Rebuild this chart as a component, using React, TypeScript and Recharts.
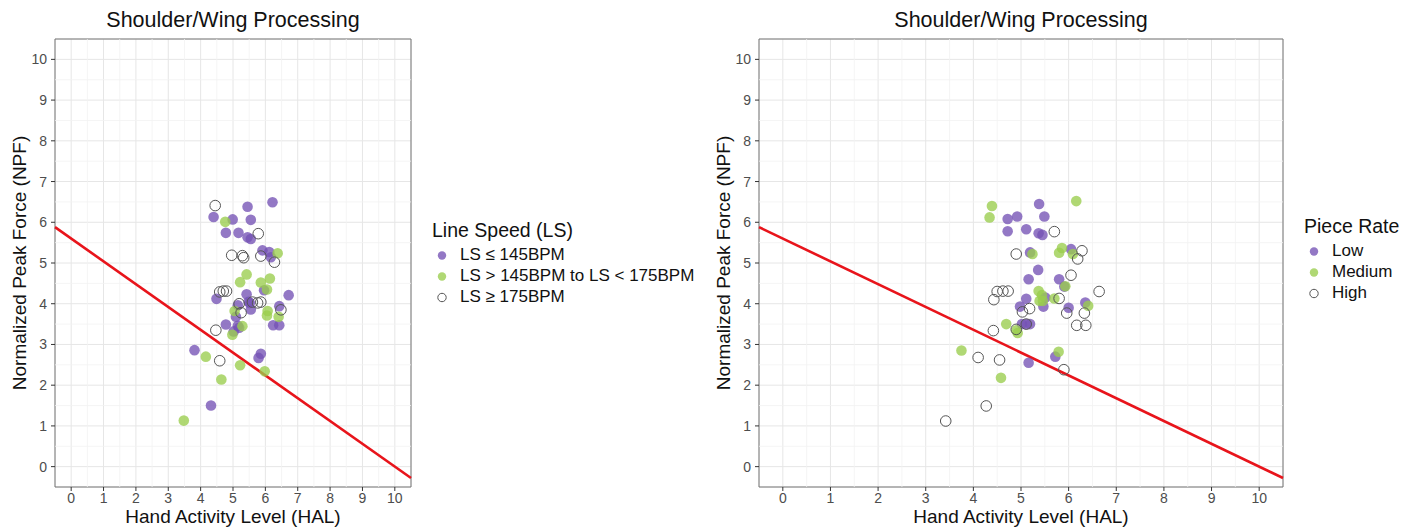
import React from 'react';
import { ScatterChart, Scatter, XAxis, YAxis, CartesianGrid, ReferenceLine, ReferenceArea } from 'recharts';

type Pt = { hal: number; npf: number };

const halTicks = [0, 1, 2, 3, 4, 5, 6, 7, 8, 9, 10];
const npfTicks = [0, 1, 2, 3, 4, 5, 6, 7, 8, 9, 10];

// left panel: grouped by line speed
const lsLow: Pt[] = [
  { hal: 5.45, npf: 6.38 }, { hal: 6.22, npf: 6.49 }, { hal: 4.4, npf: 6.13 }, { hal: 4.99, npf: 6.07 },
  { hal: 5.55, npf: 6.06 }, { hal: 4.78, npf: 5.74 }, { hal: 5.17, npf: 5.74 }, { hal: 5.45, npf: 5.63 },
  { hal: 5.55, npf: 5.59 }, { hal: 5.91, npf: 5.31 }, { hal: 6.12, npf: 5.27 }, { hal: 6.17, npf: 5.14 },
  { hal: 4.49, npf: 4.12 }, { hal: 5.42, npf: 4.23 }, { hal: 5.96, npf: 4.33 }, { hal: 6.72, npf: 4.21 },
  { hal: 5.15, npf: 3.96 }, { hal: 5.52, npf: 4.02 }, { hal: 5.48, npf: 4.05 }, { hal: 5.55, npf: 3.86 },
  { hal: 6.43, npf: 3.94 }, { hal: 5.09, npf: 3.68 }, { hal: 6.24, npf: 3.47 }, { hal: 6.43, npf: 3.47 },
  { hal: 4.78, npf: 3.49 }, { hal: 5.15, npf: 3.46 }, { hal: 5.19, npf: 3.41 }, { hal: 5.02, npf: 3.32 },
  { hal: 3.81, npf: 2.86 }, { hal: 5.86, npf: 2.77 }, { hal: 5.79, npf: 2.67 }, { hal: 4.32, npf: 1.5 },
];
const lsMid: Pt[] = [
  { hal: 4.76, npf: 6.01 }, { hal: 6.38, npf: 5.24 }, { hal: 5.42, npf: 4.72 }, { hal: 5.22, npf: 4.53 },
  { hal: 5.86, npf: 4.52 }, { hal: 6.14, npf: 4.62 }, { hal: 6.05, npf: 4.35 }, { hal: 5.05, npf: 3.82 },
  { hal: 6.07, npf: 3.82 }, { hal: 6.05, npf: 3.71 }, { hal: 6.41, npf: 3.68 }, { hal: 5.29, npf: 3.45 },
  { hal: 4.98, npf: 3.24 }, { hal: 4.16, npf: 2.7 }, { hal: 5.22, npf: 2.49 }, { hal: 5.98, npf: 2.34 },
  { hal: 4.64, npf: 2.14 }, { hal: 3.48, npf: 1.13 },
];
const lsHigh: Pt[] = [
  { hal: 4.45, npf: 6.41 }, { hal: 5.78, npf: 5.72 }, { hal: 4.96, npf: 5.19 }, { hal: 5.29, npf: 5.18 },
  { hal: 5.33, npf: 5.13 }, { hal: 5.86, npf: 5.17 }, { hal: 6.28, npf: 5.02 }, { hal: 4.59, npf: 4.29 },
  { hal: 4.7, npf: 4.31 }, { hal: 4.8, npf: 4.31 }, { hal: 5.19, npf: 4.0 }, { hal: 5.6, npf: 4.04 },
  { hal: 5.76, npf: 4.02 }, { hal: 5.86, npf: 4.04 }, { hal: 6.48, npf: 3.85 }, { hal: 5.25, npf: 3.78 },
  { hal: 4.47, npf: 3.35 }, { hal: 4.59, npf: 2.6 },
];

// right panel: grouped by piece rate
const prLow: Pt[] = [
  { hal: 5.38, npf: 6.45 }, { hal: 4.72, npf: 6.08 }, { hal: 4.92, npf: 6.14 }, { hal: 5.49, npf: 6.14 },
  { hal: 4.72, npf: 5.78 }, { hal: 5.11, npf: 5.83 }, { hal: 5.37, npf: 5.73 }, { hal: 5.45, npf: 5.69 },
  { hal: 5.19, npf: 5.26 }, { hal: 6.05, npf: 5.34 }, { hal: 5.36, npf: 4.83 }, { hal: 5.16, npf: 4.6 },
  { hal: 5.8, npf: 4.6 }, { hal: 5.91, npf: 4.42 }, { hal: 5.51, npf: 4.15 }, { hal: 5.11, npf: 4.12 },
  { hal: 4.98, npf: 3.93 }, { hal: 5.47, npf: 3.93 }, { hal: 6.0, npf: 3.9 }, { hal: 6.35, npf: 4.03 },
  { hal: 5.02, npf: 3.5 }, { hal: 5.11, npf: 3.5 }, { hal: 5.19, npf: 3.5 }, { hal: 5.72, npf: 2.7 },
  { hal: 5.16, npf: 2.55 },
];
const prMedium: Pt[] = [
  { hal: 6.16, npf: 6.52 }, { hal: 4.39, npf: 6.4 }, { hal: 4.34, npf: 6.12 }, { hal: 5.24, npf: 5.22 },
  { hal: 5.86, npf: 5.37 }, { hal: 5.8, npf: 5.25 }, { hal: 6.09, npf: 5.22 }, { hal: 5.93, npf: 4.43 },
  { hal: 5.37, npf: 4.31 }, { hal: 5.44, npf: 4.21 }, { hal: 5.39, npf: 4.07 }, { hal: 5.46, npf: 4.07 },
  { hal: 5.7, npf: 4.13 }, { hal: 6.41, npf: 3.95 }, { hal: 4.69, npf: 3.5 }, { hal: 4.9, npf: 3.35 },
  { hal: 4.93, npf: 3.28 }, { hal: 5.79, npf: 2.82 }, { hal: 4.58, npf: 2.18 }, { hal: 3.75, npf: 2.85 },
];
const prHigh: Pt[] = [
  { hal: 5.7, npf: 5.77 }, { hal: 4.9, npf: 5.22 }, { hal: 6.28, npf: 5.3 }, { hal: 6.19, npf: 5.1 },
  { hal: 6.05, npf: 4.7 }, { hal: 4.5, npf: 4.3 }, { hal: 4.62, npf: 4.31 }, { hal: 4.73, npf: 4.31 },
  { hal: 4.43, npf: 4.1 }, { hal: 6.64, npf: 4.3 }, { hal: 5.8, npf: 4.13 }, { hal: 5.03, npf: 3.8 },
  { hal: 5.18, npf: 3.88 }, { hal: 5.96, npf: 3.77 }, { hal: 6.33, npf: 3.77 }, { hal: 5.11, npf: 3.5 },
  { hal: 6.17, npf: 3.47 }, { hal: 6.36, npf: 3.47 }, { hal: 4.9, npf: 3.37 }, { hal: 4.42, npf: 3.34 },
  { hal: 4.1, npf: 2.68 }, { hal: 4.55, npf: 2.62 }, { hal: 5.9, npf: 2.38 }, { hal: 4.27, npf: 1.49 },
  { hal: 3.42, npf: 1.12 },
];

// TLV action line end points
const tlvLine: Pt[] = [{ hal: -0.5, npf: 5.88 }, { hal: 10.5, npf: -0.28 }];

const lsLabels = ['LS \u2264 145BPM', 'LS > 145BPM to LS < 175BPM', 'LS \u2265 175BPM'];
const prLabels = ['Low', 'Medium', 'High'];

const PURPLE = '#7452b5';
const GREEN = '#9acd4d';
const OPEN = '#555555';
const FONT = '"Liberation Sans", Arial, sans-serif';

const kinds = [
  { fill: PURPLE, stroke: 'none' },
  { fill: GREEN, stroke: 'none' },
  { fill: 'none', stroke: OPEN },
];

const minorTicks = halTicks.slice(0, -1).map((t) => t + 0.5);

const dot = (k: number, r = 5.3) => (p: any) => {
  const s = kinds[k];
  return (
    <circle
      cx={p.cx}
      cy={p.cy}
      r={r}
      fill={s.fill}
      fillOpacity={0.78}
      stroke={s.stroke}
      strokeWidth={1}
    />
  );
};

interface PanelProps {
  left: number;
  width: number;
  groups: Pt[][];
  legendTitle: string;
  labels: string[];
  legendLeft: number;
  legendMid: number;
}

const PLOT_TOP = 39;
const PLOT_BOTTOM = 487;
const Y_AXIS_W = 55;
const RIGHT_PAD = 4;

const Panel: React.FC<PanelProps> = ({ left, width, groups, legendTitle, labels, legendLeft, legendMid }) => {
  const plotLeft = left + Y_AXIS_W;
  const plotW = width - Y_AXIS_W - RIGHT_PAD;
  return (
    <>
      <div style={{ position: 'absolute', left: plotLeft, width: plotW, top: 8, textAlign: 'center', fontSize: 21.5, lineHeight: '24px', color: '#111' }}>
        Shoulder/Wing Processing
      </div>
      <div style={{ position: 'absolute', left: left, top: 0 }}>
        <ScatterChart width={width} height={531} margin={{ top: PLOT_TOP, right: RIGHT_PAD, left: 0, bottom: 0 }}>
          <CartesianGrid stroke="#e6e6e6" strokeWidth={1} />
          {minorTicks.map((t) => (
            <ReferenceLine key={'vx' + t} x={t} stroke="#f3f3f3" strokeWidth={0.8} />
          ))}
          {minorTicks.map((t) => (
            <ReferenceLine key={'hy' + t} y={t} stroke="#f3f3f3" strokeWidth={0.8} />
          ))}
          <XAxis
            type="number"
            dataKey="hal"
            domain={[-0.5, 10.5]}
            ticks={halTicks}
            allowDataOverflow
            height={531 - PLOT_BOTTOM}
            axisLine={false}
            tickLine={{ stroke: '#333' }}
            tickSize={4}
            tickMargin={2}
            tick={{ fill: '#4d4d4d', fontSize: 14 }}
            interval={0}
          />
          <YAxis
            type="number"
            dataKey="npf"
            domain={[-0.5, 10.5]}
            ticks={npfTicks}
            allowDataOverflow
            width={Y_AXIS_W}
            axisLine={false}
            tickLine={{ stroke: '#333' }}
            tickSize={4}
            tickMargin={4}
            tick={{ fill: '#4d4d4d', fontSize: 14 }}
            interval={0}
          />
          {groups.map((g, i) => (
            <Scatter key={i} data={g} shape={dot(i)} isAnimationActive={false} />
          ))}
          <ReferenceLine
            segment={[
              { x: tlvLine[0].hal, y: tlvLine[0].npf },
              { x: tlvLine[1].hal, y: tlvLine[1].npf },
            ]}
            stroke="#e8141b"
            strokeWidth={2.6}
            ifOverflow="visible"
          />
          <ReferenceArea x1={-0.5} x2={10.5} y1={-0.5} y2={10.5} fill="none" stroke="#777" strokeWidth={1} ifOverflow="visible" />
        </ScatterChart>
      </div>
      <div style={{ position: 'absolute', left: left + 40, width: 0, top: (PLOT_TOP + PLOT_BOTTOM) / 2 - 11, height: 22 }}>
        <div style={{ position: 'absolute', left: 0, top: 0, transform: 'translate(-50%, 0) rotate(-90deg)', whiteSpace: 'nowrap', fontSize: 19, lineHeight: '22px', color: '#111', marginLeft: -20 }}>
          Normalized Peak Force (NPF)
        </div>
      </div>
      <div style={{ position: 'absolute', left: plotLeft, width: plotW, top: 506, textAlign: 'center', fontSize: 19, lineHeight: '22px', color: '#111' }}>
        Hand Activity Level (HAL)
      </div>
      <div style={{ position: 'absolute', left: legendLeft, top: legendMid - 11, color: '#111' }}>
        <div style={{ fontSize: 19.5, lineHeight: '22px', whiteSpace: 'nowrap' }}>{legendTitle}</div>
        {labels.map((lab, i) => (
          <div key={lab} style={{ position: 'absolute', left: 0, top: 25.5 + i * 21, height: 21, display: 'flex', alignItems: 'center', whiteSpace: 'nowrap', fontSize: 17 }}>
            <svg width={28} height={21}>
              {dot(i, 4.2)({ cx: 10, cy: 10.5 })}
            </svg>
            <span>{lab}</span>
          </div>
        ))}
      </div>
    </>
  );
};

export default function App() {
  return (
    <div style={{ position: 'absolute', left: 0, top: 0, width: 1414, height: 531, background: '#fff', fontFamily: FONT, overflow: 'hidden' }}>
      <Panel left={0} width={415} groups={[lsLow, lsMid, lsHigh]} legendTitle="Line Speed (LS)" labels={lsLabels} legendLeft={432} legendMid={230} />
      <Panel left={704} width={583} groups={[prLow, prMedium, prHigh]} legendTitle="Piece Rate" labels={prLabels} legendLeft={1304} legendMid={226} />
    </div>
  );
}
